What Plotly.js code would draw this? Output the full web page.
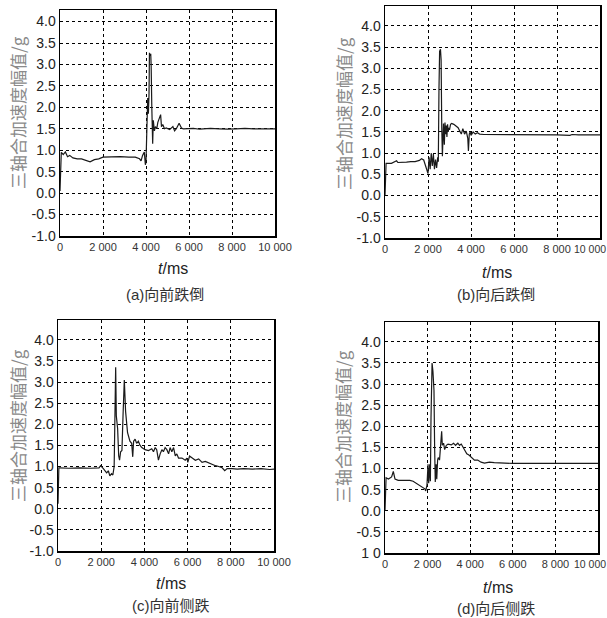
<!DOCTYPE html>
<html>
<head>
<meta charset="utf-8">
<script src="https://cdn.plot.ly/plotly-3.0.1.min.js"></script>
<style>
html,body{margin:0;padding:0;background:#fff;}
#chart{width:607px;height:618px;}
</style>
</head>
<body>
<div id="chart"></div>
<script>
// ---- data (time in ms, value in g) ----
const ta = [0, 30, 60, 150, 250, 350, 450, 600, 800, 1000, 1200, 1400, 1600, 1800, 2000, 2400, 2800, 3200, 3500, 3700, 3770, 3840, 3920, 3970, 4000, 4030, 4080, 4110, 4140, 4160, 4190, 4220, 4240, 4270, 4310, 4340, 4390, 4440, 4500, 4550, 4630, 4680, 4720, 4780, 4860, 4940, 5100, 5250, 5330, 5410, 5540, 5650, 5730, 5900, 6200, 6500, 6800, 7000, 7400, 7800, 8200, 8600, 9000, 9500, 10000];
const va = [0.05, 0.9, 0.95, 0.9, 0.96, 0.85, 0.88, 0.82, 0.8, 0.8, 0.76, 0.73, 0.78, 0.8, 0.84, 0.85, 0.85, 0.84, 0.84, 0.8, 0.75, 0.88, 0.96, 0.66, 0.72, 1.3, 2.22, 1.85, 2.3, 3.27, 3.2, 3.25, 2.97, 2.0, 1.15, 1.7, 1.45, 1.55, 1.5, 1.65, 1.77, 1.83, 1.55, 1.6, 1.5, 1.52, 1.48, 1.55, 1.45, 1.5, 1.63, 1.52, 1.5, 1.5, 1.51, 1.49, 1.5, 1.51, 1.5, 1.49, 1.5, 1.51, 1.5, 1.5, 1.5];

const tb = [0, 20, 50, 300, 540, 600, 800, 1000, 1200, 1400, 1600, 1700, 1800, 1900, 1950, 2000, 2050, 2100, 2150, 2200, 2250, 2300, 2350, 2400, 2450, 2480, 2510, 2540, 2580, 2610, 2640, 2670, 2720, 2760, 2790, 2820, 2850, 2880, 2910, 2940, 2970, 3000, 3050, 3100, 3200, 3300, 3400, 3500, 3550, 3620, 3700, 3780, 3850, 3880, 3920, 3960, 4000, 4100, 4200, 4300, 4400, 4600, 5000, 6000, 7000, 8000, 8600, 8700, 9000, 10000];
const vb = [0.0, 0.76, 0.76, 0.76, 0.82, 0.78, 0.78, 0.79, 0.8, 0.8, 0.83, 0.87, 0.84, 0.7, 0.6, 0.52, 0.9, 0.62, 1.0, 0.7, 0.98, 0.62, 0.85, 0.65, 0.9, 0.8, 2.5, 3.4, 3.45, 3.2, 1.6, 0.93, 1.7, 1.2, 1.72, 1.45, 1.65, 1.38, 1.68, 1.5, 1.6, 1.55, 1.68, 1.7, 1.68, 1.65, 1.6, 1.5, 1.45, 1.58, 1.45, 1.52, 1.35, 1.05, 1.45, 1.5, 1.42, 1.5, 1.45, 1.48, 1.45, 1.44, 1.44, 1.44, 1.43, 1.43, 1.42, 1.44, 1.43, 1.43];

const tc = [0, 40, 80, 500, 1000, 1500, 1900, 1970, 2100, 2250, 2330, 2400, 2480, 2540, 2600, 2640, 2670, 2700, 2760, 2810, 2850, 2900, 2960, 3010, 3070, 3130, 3220, 3330, 3410, 3460, 3500, 3570, 3640, 3720, 3800, 3880, 3950, 4030, 4190, 4340, 4420, 4500, 4570, 4650, 4730, 4810, 4880, 4960, 5040, 5120, 5190, 5270, 5350, 5430, 5500, 5580, 5740, 5890, 5970, 6010, 6090, 6200, 6360, 6510, 6670, 6820, 6980, 7130, 7290, 7440, 7600, 7720, 7830, 8060, 8300, 8600, 9000, 9400, 9800, 10000];
const vc = [0.12, 0.97, 0.97, 0.96, 0.97, 0.96, 0.97, 1.02, 0.95, 0.85, 0.9, 0.78, 0.83, 0.8, 1.0, 2.9, 3.35, 2.2, 1.9, 1.25, 1.15, 1.35, 1.38, 2.2, 3.05, 2.3, 1.8, 1.6, 1.55, 1.23, 1.6, 1.65, 1.55, 1.6, 1.5, 1.45, 1.42, 1.4, 1.38, 1.42, 1.35, 1.45, 1.4, 1.15, 1.3, 1.4, 1.35, 1.45, 1.4, 1.3, 1.45, 1.35, 1.45, 1.25, 1.3, 1.2, 1.2, 1.15, 1.2, 1.1, 1.25, 1.2, 1.15, 1.18, 1.1, 1.12, 1.08, 1.05, 1.02, 1.0, 0.97, 0.9, 0.95, 0.95, 0.94, 0.95, 0.94, 0.95, 0.93, 0.94];

const td = [0, 30, 50, 160, 310, 390, 470, 620, 850, 1170, 1320, 1480, 1630, 1790, 1870, 1910, 1970, 2020, 2050, 2100, 2130, 2160, 2210, 2250, 2300, 2330, 2360, 2400, 2430, 2470, 2500, 2560, 2610, 2660, 2690, 2750, 2800, 2880, 2960, 3110, 3220, 3310, 3420, 3500, 3580, 3660, 3730, 3840, 3940, 4040, 4200, 4350, 4510, 4670, 4900, 5130, 5360, 5670, 6000, 7000, 8000, 9000, 10000];
const vd = [0.0, 0.75, 0.78, 0.75, 0.8, 0.93, 0.75, 0.72, 0.72, 0.72, 0.7, 0.65, 0.6, 0.55, 0.52, 0.47, 0.6, 1.1, 0.65, 1.1, 0.7, 2.2, 3.5, 3.3, 2.85, 1.5, 0.68, 1.1, 0.75, 1.2, 1.26, 1.2, 1.66, 1.88, 1.55, 1.6, 1.45, 1.55, 1.58, 1.56, 1.6, 1.55, 1.6, 1.55, 1.58, 1.5, 1.42, 1.35, 1.32, 1.28, 1.2, 1.2, 1.15, 1.13, 1.15, 1.14, 1.13, 1.12, 1.12, 1.12, 1.12, 1.12, 1.12];

const xTickVals = [0, 2000, 4000, 6000, 8000, 10000];
const xTickText = ["0", "2 000", "4 000", "6 000", "8 000", "10 000"];
const xTickTextEdge = ["0", "2 000", "4 000", "6 000", "8 000", ""];
const yTickVals = [-1, -0.5, 0, 0.5, 1, 1.5, 2, 2.5, 3, 3.5, 4];
const yTickText = ["-1.0", "-0.5", "0.0", "0.5", "1.0", "1.5", "2.0", "2.5", "3.0", "3.5", "4.0"];
const yTickTextD = ["1 0", "-0.5", "0.0", "0.5", "1.0", "1.5", "2.0", "2.5", "3.0", "3.5", "4.0"];
const yTitle = "三轴合加速度幅值/g";
const captions = ["(a)向前跌倒", "(b)向后跌倒", "(c)向前侧跌", "(d)向后侧跌"];

// ---- layout geometry (pixels) ----
const W = 607, H = 618;
const panels = [
  {t: ta, v: va, px: [60, 275], py: [10, 236], yr: [-1, 4.27], yt: yTickText, xtt: xTickText, ttl: [17, 113], xt: [173, 268], cap: [165, 295]},
  {t: tb, v: vb, px: [385, 600], py: [6, 238], yr: [-1, 4.47], yt: yTickText, xtt: xTickTextEdge, ttl: [343, 114], xt: [497, 272], cap: [496, 295]},
  {t: tc, v: vc, px: [58, 274], py: [320, 551], yr: [-1, 4.47], yt: yTickText, xtt: xTickText, ttl: [17, 426], xt: [171, 583], cap: [171, 605]},
  {t: td, v: vd, px: [385, 598], py: [322, 553], yr: [-1, 4.47], yt: yTickTextD, xtt: xTickTextEdge, ttl: [343, 427], xt: [498, 587], cap: [496, 608]}
];

const latin = "Liberation Sans, Arial, sans-serif";
const cjk = "Liberation Sans, Noto Sans CJK SC, sans-serif";

const data = [];
const layout = {
  width: W, height: H,
  margin: {l: 0, r: 0, t: 0, b: 0},
  paper_bgcolor: "#fff", plot_bgcolor: "#fff",
  showlegend: false,
  annotations: []
};

panels.forEach((p, i) => {
  const n = i === 0 ? "" : String(i + 1);
  data.push({
    x: p.t, y: p.v, type: "scatter", mode: "lines",
    xaxis: "x" + n, yaxis: "y" + n,
    line: {color: "#1a1a1a", width: 1.2},
    hoverinfo: "skip"
  });
  layout["xaxis" + n] = {
    domain: [p.px[0] / W, p.px[1] / W],
    range: [0, 10000], anchor: "y" + n,
    tickvals: xTickVals, ticktext: p.xtt,
    showgrid: true, gridcolor: "#000", griddash: "dot", gridwidth: 1,
    showline: true, mirror: true, linecolor: "#000", linewidth: 1.5,
    ticks: "", zeroline: false, fixedrange: true,
    ticklabeloverflow: "allow",
    tickfont: {family: latin, size: 11, color: "#333"}
  };
  layout["yaxis" + n] = {
    domain: [1 - p.py[1] / H, 1 - p.py[0] / H],
    range: p.yr, anchor: "x" + n,
    tickvals: yTickVals, ticktext: p.yt,
    showgrid: true, gridcolor: "#000", griddash: "dot", gridwidth: 1,
    showline: true, mirror: true, linecolor: "#000", linewidth: 1.5,
    ticks: "", zeroline: false, fixedrange: true,
    ticklabeloverflow: "allow",
    tickfont: {family: latin, size: 14, color: "#222"}
  };
  if (p.xtt[5] === "") {
    layout.annotations.push({
      text: xTickText[5], xref: "paper", yref: "paper",
      x: 1, y: 1 - (p.py[1] + 11) / H, xanchor: "right", yanchor: "middle",
      showarrow: false, borderpad: 0,
      font: {family: latin, size: 10.5, color: "#333"}
    });
  }
  layout.annotations.push({
    text: yTitle, xref: "paper", yref: "paper",
    x: p.ttl[0] / W, y: 1 - p.ttl[1] / H, xanchor: "center", yanchor: "middle",
    textangle: -90, showarrow: false,
    font: {family: "Noto Sans CJK SC, sans-serif", size: 17, color: "#8a8a8a"}
  });
  layout.annotations.push({
    text: "<i>t</i>/ms", xref: "paper", yref: "paper",
    x: p.xt[0] / W, y: 1 - p.xt[1] / H, xanchor: "center", yanchor: "middle",
    showarrow: false,
    font: {family: latin, size: 16, color: "#222"}
  });
  layout.annotations.push({
    text: captions[i], xref: "paper", yref: "paper",
    x: p.cap[0] / W, y: 1 - p.cap[1] / H, xanchor: "center", yanchor: "middle",
    showarrow: false,
    font: {family: cjk, size: 15, color: "#333"}
  });
});

Plotly.newPlot("chart", data, layout, {displayModeBar: false, staticPlot: true});
</script>
</body>
</html>
